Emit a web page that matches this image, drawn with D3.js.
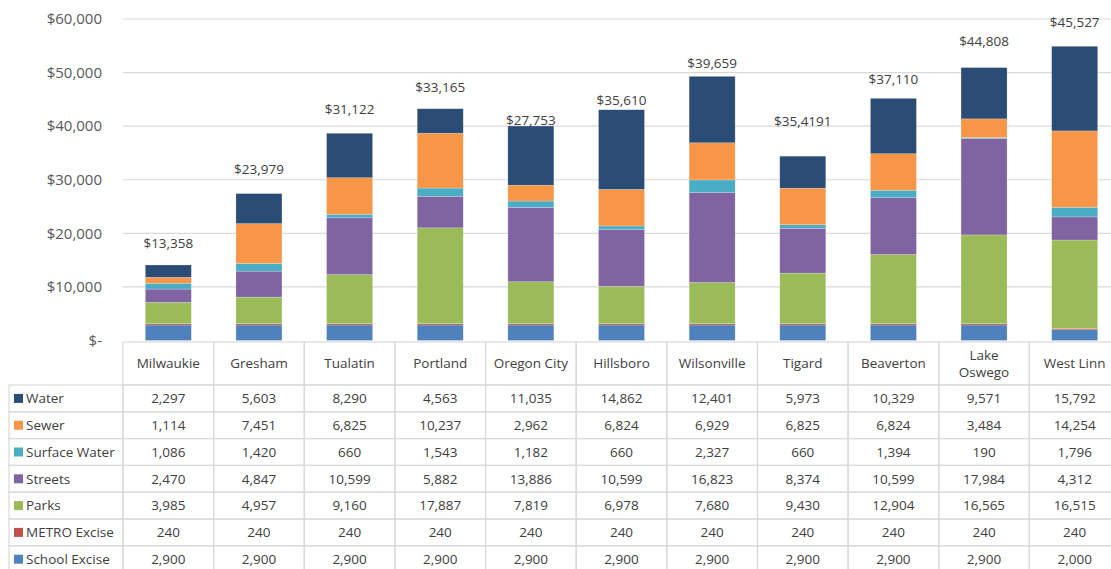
<!DOCTYPE html>
<html>
<head>
<meta charset="utf-8">
<script src="https://cdn.jsdelivr.net/npm/d3@7"></script>
<style>
  body { margin: 0; background: #fff; overflow: hidden; }
  text { font-family: "Open Sans", "Noto Sans", sans-serif; }
</style>
</head>
<body>
<div id="chart-area"></div>
<script>
// data
var cities = ["Milwaukie", "Gresham", "Tualatin", "Portland", "Oregon City", "Hillsboro",
              "Wilsonville", "Tigard", "Beaverton", "Lake Oswego", "West Linn"];
var seriesNames = ["Water", "Sewer", "Surface Water", "Streets", "Parks", "METRO Excise", "School Excise"];
var water        = [2297, 5603, 8290, 4563, 11035, 14862, 12401, 5973, 10329, 9571, 15792];
var sewer        = [1114, 7451, 6825, 10237, 2962, 6824, 6929, 6825, 6824, 3484, 14254];
var surfaceWater = [1086, 1420, 660, 1543, 1182, 660, 2327, 660, 1394, 190, 1796];
var streets      = [2470, 4847, 10599, 5882, 13886, 10599, 16823, 8374, 10599, 17984, 4312];
var parks        = [3985, 4957, 9160, 17887, 7819, 6978, 7680, 9430, 12904, 16565, 16515];
var metroExcise  = [240, 240, 240, 240, 240, 240, 240, 240, 240, 240, 240];
var schoolExcise = [2900, 2900, 2900, 2900, 2900, 2900, 2900, 2900, 2900, 2900, 2000];
var totalLabels  = ["$13,358", "$23,979", "$31,122", "$33,165", "$27,753", "$35,610",
                    "$39,659", "$35,4191", "$37,110", "$44,808", "$45,527"];
var yTicks = [0, 10000, 20000, 30000, 40000, 50000, 60000];

// layout only: how far each total label sits above its bar (px), the labels were hand placed
var labelLift = [22, 24, 24, 21, 6, 9, 13, 35, 19, 26, 24];

var colors = {
  "Water": "#2b4c74",
  "Sewer": "#f79646",
  "Surface Water": "#4bacc6",
  "Streets": "#8064a2",
  "Parks": "#9bbb59",
  "METRO Excise": "#c0504d",
  "School Excise": "#4f81bd"
};

var valuesBySeries = {
  "Water": water, "Sewer": sewer, "Surface Water": surfaceWater, "Streets": streets,
  "Parks": parks, "METRO Excise": metroExcise, "School Excise": schoolExcise
};

var rows = cities.map(function(c, i) {
  var r = { city: c };
  seriesNames.forEach(function(s) { r[s] = valuesBySeries[s][i]; });
  return r;
});

var W = 1111, H = 569;
var plotLeft = 123, plotRight = 1120, plotTop = 19, plotBottom = 340.5;

var svg = d3.select("#chart-area").append("svg")
    .attr("width", W).attr("height", H);

var x = d3.scaleBand().domain(cities).range([plotLeft, plotRight]).paddingInner(0).paddingOuter(0);
var y = d3.scaleLinear().domain([0, 60000]).range([plotBottom, plotTop]);

// gridlines
svg.append("g").selectAll("line")
    .data(yTicks.filter(function(d) { return d > 0; }))
    .enter().append("line")
    .attr("x1", plotLeft).attr("x2", W)
    .attr("y1", function(d) { return y(d); }).attr("y2", function(d) { return y(d); })
    .attr("stroke", "#d9d9d9").attr("stroke-width", 1.2);

// y axis labels
var yAxis = d3.axisLeft(y).tickValues(yTicks).tickSize(0).tickPadding(0)
    .tickFormat(function(d) { return d === 0 ? "$-" : "$" + d3.format(",")(d); });
var ya = svg.append("g").attr("transform", "translate(102,0)").call(yAxis);
ya.select(".domain").remove();
ya.selectAll("text").attr("fill", "#595959").style("font-size", "15px")
    .style("font-family", "'Open Sans', sans-serif");

// stacks, bottom first
var stackOrder = seriesNames.slice().reverse();
var stack = d3.stack().keys(stackOrder);
var layers = stack(rows);
var barW = 46;

svg.append("g").selectAll("g")
    .data(layers)
    .enter().append("g")
    .attr("fill", function(d) { return colors[d.key]; })
    .selectAll("rect")
    .data(function(d) { return d; })
    .enter().append("rect")
    .attr("x", function(d) { return x(d.data.city) + x.bandwidth() / 2 - barW / 2; })
    .attr("width", barW)
    .attr("y", function(d) { return y(d[1]); })
    .attr("height", function(d) { return y(d[0]) - y(d[1]); })
    .attr("stroke", "rgba(255,255,255,0.35)").attr("stroke-width", 0.6);

// total labels
var tops = layers[layers.length - 1];
svg.append("g").selectAll("text")
    .data(totalLabels)
    .enter().append("text")
    .attr("x", function(d, i) { return x(cities[i]) + x.bandwidth() / 2; })
    .attr("y", function(d, i) { return y(tops[i][1]) - labelLift[i]; })
    .attr("text-anchor", "middle").attr("dy", "0.35em")
    .attr("fill", "#404040").style("font-size", "13.5px")
    .text(function(d) { return d; });

// data table
var tableTop = 342, headerH = 43, rowH = 26.8, legendLeft = 9;
var lineColor = "#d9d9d9";
var table = svg.append("g");

// header cells
cities.forEach(function(c, i) {
  var x0 = x(c);
  table.append("rect")
      .attr("x", x0).attr("y", tableTop).attr("width", x.bandwidth()).attr("height", headerH)
      .attr("fill", "none").attr("stroke", lineColor).attr("stroke-width", 1.2);
  var t = table.append("text")
      .attr("x", x0 + x.bandwidth() / 2)
      .attr("text-anchor", "middle").attr("fill", "#404040").style("font-size", "13.5px");
  var words = c === "Lake Oswego" ? ["Lake", "Oswego"] : [c];
  var startY = tableTop + headerH / 2 - (words.length - 1) * 8.5;
  words.forEach(function(w, k) {
    t.append("tspan").attr("x", x0 + x.bandwidth() / 2)
        .attr("y", startY + k * 17).attr("dy", "0.35em").text(w);
  });
});

// body rows
seriesNames.forEach(function(s, r) {
  var ry = tableTop + headerH + r * rowH;
  table.append("rect")
      .attr("x", legendLeft).attr("y", ry).attr("width", plotLeft - legendLeft).attr("height", rowH)
      .attr("fill", "none").attr("stroke", lineColor).attr("stroke-width", 1.2);
  table.append("rect")
      .attr("x", legendLeft + 5).attr("y", ry + rowH / 2 - 4.5).attr("width", 9).attr("height", 9)
      .attr("fill", colors[s]);
  table.append("text")
      .attr("x", legendLeft + 17).attr("y", ry + rowH / 2).attr("dy", "0.35em")
      .attr("fill", "#404040").style("font-size", "13.5px").text(s);
  cities.forEach(function(c, i) {
    table.append("rect")
        .attr("x", x(c)).attr("y", ry).attr("width", x.bandwidth()).attr("height", rowH)
        .attr("fill", "none").attr("stroke", lineColor).attr("stroke-width", 1.2);
    table.append("text")
        .attr("x", x(c) + x.bandwidth() / 2).attr("y", ry + rowH / 2).attr("dy", "0.35em")
        .attr("text-anchor", "middle").attr("fill", "#404040").style("font-size", "13.5px")
        .text(d3.format(",")(valuesBySeries[s][i]));
  });
});
</script>
</body>
</html>
